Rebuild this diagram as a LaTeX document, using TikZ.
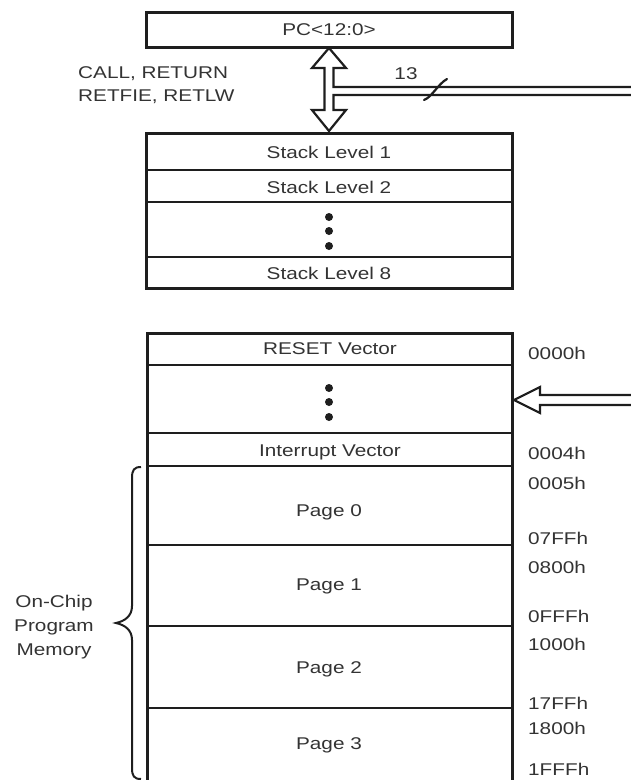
\documentclass[tikz,border=0pt]{standalone}
\usepackage{fontspec}
\setmainfont{Liberation Sans}[FakeStretch=1.22]
\definecolor{ink}{HTML}{1E1E1E}
\definecolor{txt}{HTML}{333333}
\begin{document}
\begin{tikzpicture}[x=1pt,y=-1pt,
  lbl/.style={font=\fontsize{17}{20}\selectfont, text=txt, inner sep=0pt},
  boxline/.style={draw=ink, line width=3pt},
  thickdiv/.style={draw=ink, line width=2.6pt},
  thindiv/.style={draw=ink, line width=1.5pt},
  arrline/.style={draw=ink, line width=2.2pt, line join=miter},
  dot/.style={fill=ink}]
\useasboundingbox (0,0) rectangle (630,780);
% PC register
\draw[boxline] (146,12) rectangle (512,47);
\node[lbl] (pc) at (329,30) {PC<12:0>};
% hollow double arrow with bus
\draw[arrline] (631,87) -- (333.5,87) -- (333.5,68) -- (346,68) -- (329,48) -- (312,68)
  -- (324.5,68) -- (324.5,110) -- (312,110) -- (329,131) -- (346,110) -- (333.5,110)
  -- (333.5,95) -- (631,95);
\draw[ink, line width=2.2pt, line cap=round] (424,100) .. controls (432,97) and (438,84) .. (447,79);
\node[lbl, anchor=center] (n13) at (406,74) {13};
\node[lbl, anchor=west] (call) at (78,74) {CALL, RETURN};
\node[lbl, anchor=west] (ret) at (78,97) {RETFIE, RETLW};
% stack
\draw[boxline] (146,133) rectangle (512,288);
\draw[thickdiv] (146,170) -- (512,170);
\draw[thickdiv] (146,202) -- (512,202);
\draw[thindiv] (146,257) -- (512,257);
\node[lbl] (s1) at (329,152) {Stack Level 1};
\node[lbl] (s2) at (329,187) {Stack Level 2};
\node[lbl] (s8) at (329,273) {Stack Level 8};
\fill[dot] (329,217) circle (4);
\fill[dot] (329,231) circle (4);
\fill[dot] (329,246) circle (4);
% program memory
\draw[boxline] (147,333) rectangle (512,783);
\draw[thickdiv] (147,365) -- (512,365);
\draw[thindiv] (147,433) -- (512,433);
\draw[thickdiv] (147,466) -- (512,466);
\draw[thickdiv] (147,545) -- (512,545);
\draw[thindiv] (147,626) -- (512,626);
\draw[thickdiv] (147,708) -- (512,708);
\node[lbl] (reset) at (330,349) {RESET Vector};
\fill[dot] (329,388) circle (4);
\fill[dot] (329,402) circle (4);
\fill[dot] (329,417) circle (4);
\node[lbl] (intv) at (330,452) {Interrupt Vector};
\node[lbl] (p0) at (329,512) {Page 0};
\node[lbl] (p1) at (329,586) {Page 1};
\node[lbl] (p2) at (329,669) {Page 2};
\node[lbl] (p3) at (329,745) {Page 3};
% hollow arrow into memory
\draw[arrline] (631,395) -- (540,395) -- (540,387) -- (514,400) -- (540,413) -- (540,405) -- (631,405);
% addresses
\foreach \n/\y/\t in {a0/353/0000h, a4/453/0004h, a5/483/0005h, a7/538/07FFh,
  a8/567/0800h, af/616/0FFFh, b0/644/1000h, b7/703/17FFh, c0/728/1800h, cf/769/1FFFh}
  \node[lbl, anchor=west] (\n) at (528,\y) {\t};
% brace
\draw[ink, line width=2pt] (141,467) .. controls (134,467) and (132,470) .. (132,478)
  -- (132,606) .. controls (132,616) and (125,621) .. (116,623)
  .. controls (125,625) and (132,630) .. (132,640)
  -- (132,768) .. controls (132,776) and (134,779) .. (141,779);
\node[lbl] (oc) at (54,603) {On-Chip};
\node[lbl] (pg) at (54,627) {Program};
\node[lbl] (mem) at (54,651) {Memory};
\end{tikzpicture}
\end{document}
